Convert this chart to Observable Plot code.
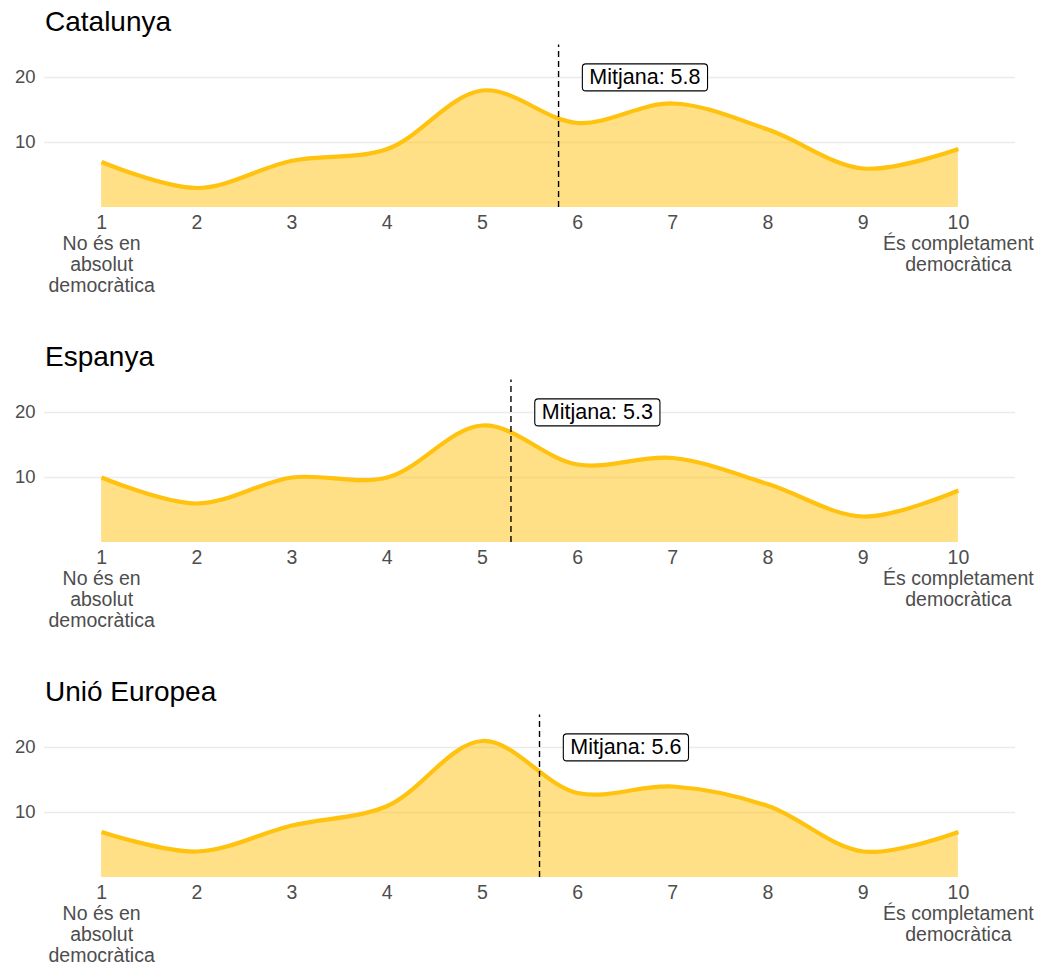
<!DOCTYPE html>
<html>
<head>
<meta charset="utf-8">
<script src="https://cdn.jsdelivr.net/npm/d3@7"></script>
<script src="https://cdn.jsdelivr.net/npm/@observablehq/plot@0.6"></script>
<style>
  html, body { margin: 0; padding: 0; background: #fff; overflow: hidden; }
  body { width: 1043px; height: 966px; font-family: "Liberation Sans", Arial, sans-serif; }
  .panel { position: relative; height: 335px; }
  .title { font-size: 28px; line-height: 36px; height: 36px; padding-top: 4px; padding-left: 45px; color: #000; }
</style>
</head>
<body>
<div id="chart"></div>
<script>
const categories = ["Catalunya", "Espanya", "Unió Europea"];
const scores = [1, 2, 3, 4, 5, 6, 7, 8, 9, 10];
const catalunya = [7, 3, 7.2, 9, 18, 13, 16, 12, 6, 9];
const espanya = [10, 6, 10, 10, 18, 12, 13, 9, 4, 8];
const unioEuropea = [7, 4, 8, 11, 21, 13, 14, 11, 4, 7];
const means = [5.8, 5.3, 5.6];
const yTicks = [10, 20];
const extremeLabels = {1: "No és en\nabsolut\ndemocràtica", 10: "És completament\ndemocràtica"};
const meanPrefix = "Mitjana: ";

const seriesValues = [catalunya, espanya, unioEuropea];
const gold = "#FFC20E";
const root = document.getElementById("chart");

categories.forEach((cat, i) => {
  const data = scores.map((s, j) => ({score: s, value: seriesValues[i][j]}));
  const mean = means[i];
  const panel = document.createElement("div");
  panel.className = "panel";
  const title = document.createElement("div");
  title.className = "title";
  title.textContent = cat;
  panel.appendChild(title);

  const plot = Plot.plot({
    width: 1043,
    height: 295,
    marginTop: 4.5,
    marginBottom: 128,
    marginLeft: 44,
    marginRight: 28,
    style: {fontFamily: "'Liberation Sans', Arial, sans-serif", background: "transparent", overflow: "visible"},
    x: {domain: [0.4, 10.6]},
    y: {domain: [0, 25]},
    marks: [
      Plot.ruleY(yTicks, {stroke: "#ebebeb", strokeWidth: 1.3}),
      Plot.areaY(data, {x: "score", y: "value", curve: "catmull-rom", fill: gold, fillOpacity: 0.5}),
      Plot.lineY(data, {x: "score", y: "value", curve: "catmull-rom", stroke: gold, strokeWidth: 4.2, strokeLinecap: "butt"}),
      Plot.ruleX([mean], {x: d => d, y1: 0, y2: 25, stroke: "#000", strokeWidth: 1.4, strokeDasharray: "6,4"}),
      Plot.text([mean], {x: d => d + 0.25, y: 20, text: d => meanPrefix + d.toFixed(1), textAnchor: "start", dx: 7, fontSize: 21.5, fill: "#000", lineAnchor: "middle"}),
      Plot.axisY(yTicks, {tickSize: 0, tickPadding: 9, fontSize: 18.5, color: "#4d4d4d", label: null}),
      Plot.axisX(scores, {tickSize: 0, tickPadding: 7, fontSize: 19.5, color: "#4d4d4d", label: null, lineHeight: 1.07,
        tickFormat: d => extremeLabels[d] ? d + "\n" + extremeLabels[d] : String(d)})
    ]
  });
  panel.appendChild(plot);
  root.appendChild(panel);

  // draw rounded label box behind the mean label
  plot.querySelectorAll("text").forEach(t => {
    if (t.textContent.startsWith(meanPrefix)) {
      const bb = t.getBBox();
      const rect = document.createElementNS("http://www.w3.org/2000/svg", "rect");
      const padX = 7, padY = 1.5;
      rect.setAttribute("x", bb.x - padX);
      rect.setAttribute("y", bb.y - padY);
      rect.setAttribute("width", bb.width + 2 * padX);
      rect.setAttribute("height", bb.height + 2 * padY);
      rect.setAttribute("rx", 3.5);
      rect.setAttribute("fill", "#fff");
      rect.setAttribute("stroke", "#000");
      rect.setAttribute("stroke-width", 1.1);
      const tr = t.getAttribute("transform");
      if (tr) rect.setAttribute("transform", tr);
      t.parentNode.insertBefore(rect, t);
    }
  });
});
</script>
</body>
</html>
